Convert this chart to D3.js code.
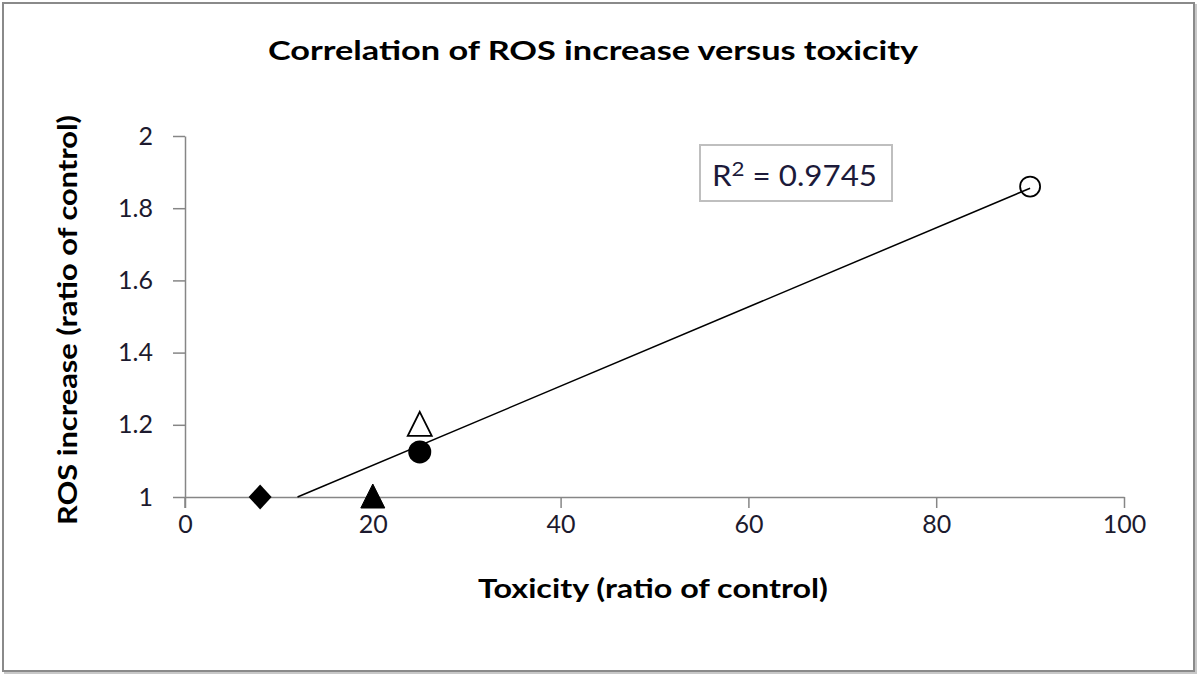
<!DOCTYPE html>
<html>
<head>
<meta charset="utf-8">
<script src="https://cdn.jsdelivr.net/npm/d3@7"></script>
<style>
  html, body { margin: 0; padding: 0; background: #fff; }
  svg { display: block; font-family: Lato, "Open Sans", sans-serif; }
</style>
</head>
<body>
<svg id="chart" width="1200" height="677"></svg>
<script>
// ---- data ----
const pointNames = ["diamond", "filledTriangle", "openTriangle", "filledCircle", "openCircle"];
const toxicity = [8, 20, 25, 25, 90];
const rosIncrease = [1.0, 1.0, 1.2, 1.125, 1.86];
const xTicks = [0, 20, 40, 60, 80, 100];
const yTicks = [1, 1.2, 1.4, 1.6, 1.8, 2];
const titleText = "Correlation of ROS increase versus toxicity";
const xTitle = "Toxicity (ratio of control)";
const yTitle = "ROS increase (ratio of control)";
const r2Label = "0.9745";

(function () {
const svg = d3.select("#chart");
const W = 1200, H = 677;

// outer frame
svg.append("rect").attr("x", 5).attr("y", 5).attr("width", W - 9).attr("height", H - 9)
  .attr("fill", "none").attr("stroke", "#c8c8c8").attr("stroke-width", 2);
svg.append("rect").attr("x", 3).attr("y", 3).attr("width", W - 9).attr("height", H - 9)
  .attr("fill", "#fff").attr("stroke", "#8a8a8a").attr("stroke-width", 2);

const pLeft = 185, pRight = 1124, pTop = 136, pBottom = 497;
const x = d3.scaleLinear().domain([0, 100]).range([pLeft, pRight]);
const y = d3.scaleLinear().domain([1, 2]).range([pBottom, pTop]);

// title
svg.append("text").attr("x", 593).attr("y", 60).attr("text-anchor", "middle")
  .attr("font-weight", "bold").attr("font-size", 27).attr("fill", "#000")
  .attr("textLength", 650).attr("lengthAdjust", "spacingAndGlyphs")
  .text(titleText);

// axes
const axisColor = "#868686";
const labelColor = "#1c1a2e";
const xAxis = svg.append("g").attr("transform", `translate(0,${pBottom})`)
  .call(d3.axisBottom(x).tickValues(xTicks).tickSize(11).tickSizeOuter(0).tickPadding(7)
    .tickFormat(d3.format("d")));
xAxis.select(".domain").attr("stroke", axisColor).attr("stroke-width", 1.5);
xAxis.selectAll(".tick line").attr("stroke", axisColor).attr("stroke-width", 1.5);
xAxis.selectAll(".tick text").attr("font-size", 25).attr("fill", labelColor)
  .attr("font-family", "Lato, sans-serif");

const yAxis = svg.append("g").attr("transform", `translate(${pLeft},0)`)
  .call(d3.axisLeft(y).tickValues(yTicks).tickSize(12).tickSizeOuter(0).tickPadding(20)
    .tickFormat(d => d3.format("")(+d.toFixed(1))));
yAxis.select(".domain").attr("stroke", axisColor).attr("stroke-width", 1.5);
yAxis.selectAll(".tick line").attr("stroke", axisColor).attr("stroke-width", 1.5);
yAxis.selectAll(".tick text").attr("font-size", 25).attr("fill", labelColor)
  .attr("font-family", "Lato, sans-serif");
svg.append("line").attr("x1", pLeft).attr("x2", pLeft).attr("y1", pBottom).attr("y2", pBottom + 11)
  .attr("stroke", axisColor).attr("stroke-width", 1.5);

// axis titles
svg.append("text").attr("x", 653).attr("y", 598).attr("text-anchor", "middle")
  .attr("font-weight", "bold").attr("font-size", 26).attr("fill", "#000")
  .attr("textLength", 350).attr("lengthAdjust", "spacingAndGlyphs")
  .text(xTitle);
svg.append("text").attr("transform", "translate(77,320) rotate(-90)").attr("text-anchor", "middle")
  .attr("font-weight", "bold").attr("font-size", 26).attr("fill", "#000")
  .attr("textLength", 410).attr("lengthAdjust", "spacingAndGlyphs")
  .text(yTitle);

// linear trendline (least squares over all points)
const n = toxicity.length;
const mx = d3.mean(toxicity), my = d3.mean(rosIncrease);
let sxy = 0, sxx = 0;
for (let i = 0; i < n; i++) { sxy += (toxicity[i] - mx) * (rosIncrease[i] - my); sxx += (toxicity[i] - mx) ** 2; }
const slope = sxy / sxx, intercept = my - slope * mx;
const xMaxPt = d3.max(toxicity);
const xStart = Math.max(d3.min(toxicity), (y.domain()[0] - intercept) / slope);
svg.append("line")
  .attr("x1", x(xStart)).attr("y1", y(intercept + slope * xStart))
  .attr("x2", x(xMaxPt)).attr("y2", y(intercept + slope * xMaxPt))
  .attr("stroke", "#000").attr("stroke-width", 1.5);

// markers
const g = svg.append("g");
pointNames.forEach((name, i) => {
  const cx = x(toxicity[i]), cy = y(rosIncrease[i]);
  if (name === "diamond") {
    g.append("path").attr("d", `M${cx},${cy - 12.5}L${cx + 11.5},${cy}L${cx},${cy + 12.5}L${cx - 11.5},${cy}Z`)
      .attr("fill", "#000");
  } else if (name === "filledTriangle" || name === "openTriangle") {
    const open = name === "openTriangle";
    g.append("path").attr("d", `M${cx},${cy - 13}L${cx + 12},${cy + 11}L${cx - 12},${cy + 11}Z`)
      .attr("fill", open ? "#fff" : "#000").attr("stroke", "#000").attr("stroke-width", open ? 1.8 : 1);
  } else if (name === "filledCircle") {
    g.append("circle").attr("cx", cx).attr("cy", cy).attr("r", 11.5).attr("fill", "#000");
  } else {
    g.append("circle").attr("cx", cx).attr("cy", cy).attr("r", 10)
      .attr("fill", "none").attr("stroke", "#000").attr("stroke-width", 1.8);
  }
});

// R² label box
const box = svg.append("g");
box.append("rect").attr("x", 700).attr("y", 145).attr("width", 192).attr("height", 56)
  .attr("fill", "#fff").attr("stroke", "#bfbfbf").attr("stroke-width", 2);
const t = box.append("text").attr("x", 712).attr("y", 186).attr("font-size", 28).attr("fill", "#1c1a3a")
  .attr("textLength", 165).attr("lengthAdjust", "spacingAndGlyphs");
t.append("tspan").text("R");
t.append("tspan").attr("dy", -10).attr("font-size", 20).text("2");
t.append("tspan").attr("dy", 10).text(" = " + r2Label);
})();
</script>
</body>
</html>
